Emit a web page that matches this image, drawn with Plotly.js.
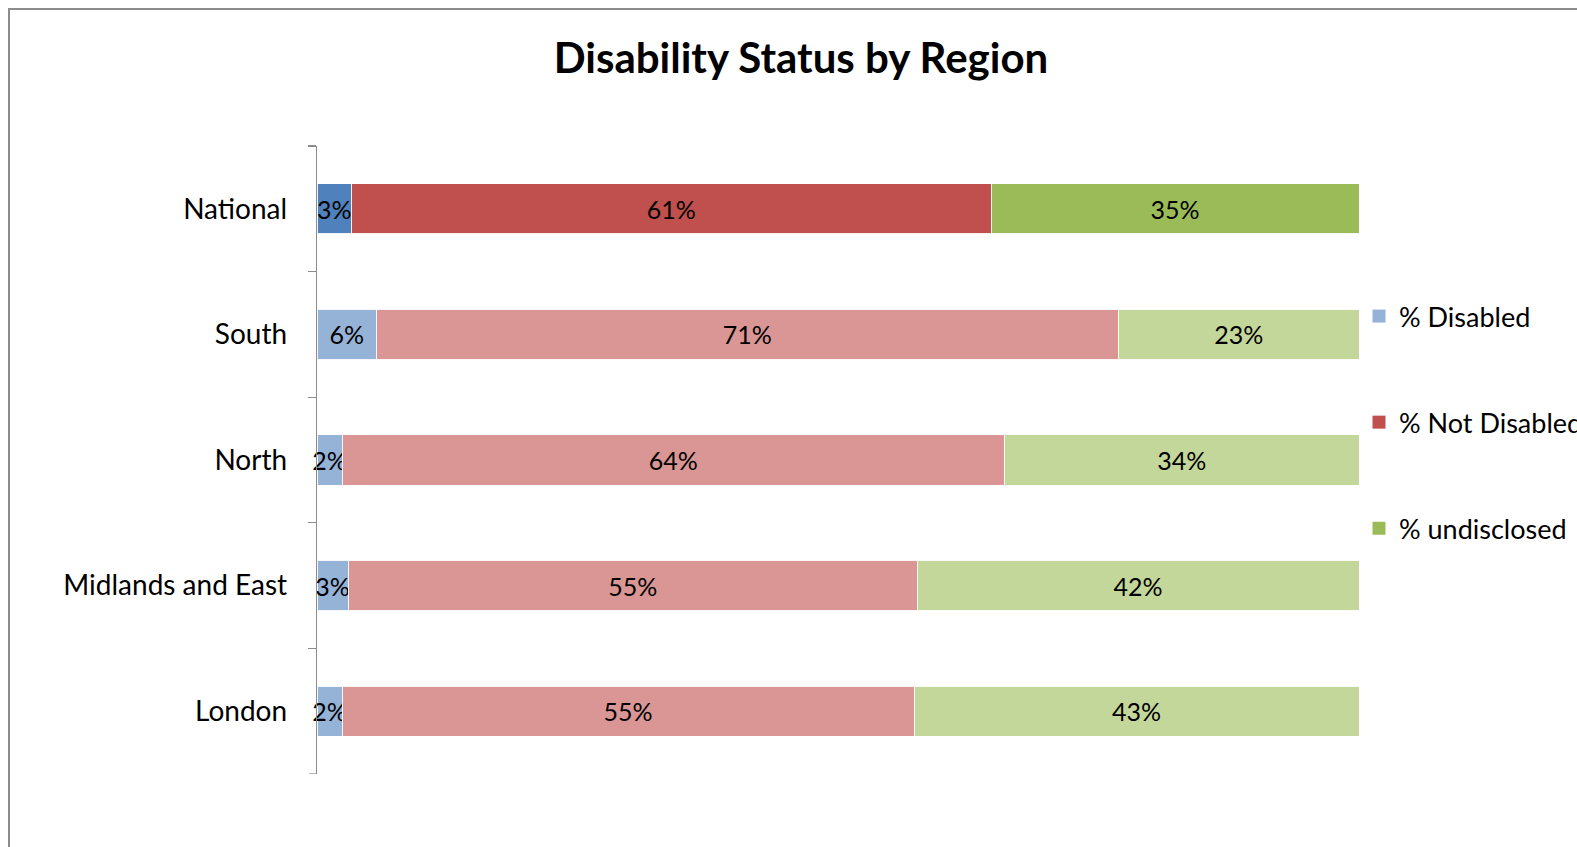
<!DOCTYPE html>
<html>
<head>
<meta charset="utf-8">
<script src="https://cdn.plot.ly/plotly-3.0.1.min.js"></script>
<style>
  html, body { margin: 0; padding: 0; background: #ffffff; overflow: hidden; }
  #chart { width: 1577px; height: 847px; position: relative; }
  #frame { position: absolute; left: 8px; top: 8px; width: 1600px; height: 900px;
           border-left: 2px solid #8c8c8c; border-top: 2px solid #8c8c8c; pointer-events: none; z-index: 10; }
</style>
</head>
<body>
<div id="chart"></div>
<div id="frame"></div>
<script>
// ---- data ----
const regions = ["National", "South", "North", "Midlands and East", "London"];
const seriesNames = ["% Disabled", "% Not Disabled", "% undisclosed"];
const disabled    = [3.3, 5.7, 2.4, 3.0, 2.4];
const notDisabled = [61.4, 71.2, 63.6, 54.6, 54.9];
const undisclosed = [35.3, 23.1, 34.0, 42.4, 42.7];

// ---- styling ----
const darkColors  = ["#4F81BD", "#C0504D", "#9BBB59"];
const lightColors = ["#95B3D7", "#DA9694", "#C4D79B"];
const legendColors = ["#95B3D7", "#C0504D", "#9BBB59"];
const FONT = "Lato, 'Open Sans', sans-serif";
const AXIS_GREY = "#8c8c8c";

const seriesValues = [disabled, notDisabled, undisclosed];
const traces = [];
seriesValues.forEach((vals, s) => {
  traces.push({
    type: "bar",
    orientation: "h",
    y: regions,
    x: vals,
    name: seriesNames[s],
    showlegend: false,
    legendgroup: "g" + s,
    cliponaxis: false,
    marker: {
      color: regions.map((r, i) => i === 0 ? darkColors[s] : lightColors[s]),
      line: { color: "rgba(255,255,255,0.9)", width: 1 }
    },
    text: vals.map(v => Math.round(v) + "%"),
    textposition: "inside",
    insidetextanchor: "middle",
    constraintext: "none",
    textangle: 0,
    textfont: { family: FONT, size: 25, color: "#000000" },
    hoverinfo: "name+y+text"
  });
});
// legend entries (no data)
seriesNames.forEach((n, s) => {
  traces.push({
    type: "scatter", mode: "markers", x: [null], y: [null],
    name: n, legendgroup: "g" + s, showlegend: true,
    marker: { color: legendColors[s], symbol: "square", size: 13 }, hoverinfo: "skip"
  });
});

const nCat = regions.length;

const layout = {
  width: 1577, height: 847,
  paper_bgcolor: "#ffffff", plot_bgcolor: "#ffffff",
  margin: { l: 317, r: 218, t: 146, b: 73, autoexpand: false },
  barmode: "stack",
  barnorm: "percent",
  bargap: 0.6,
  title: {
    text: "<b>Disability Status by Region</b>",
    font: { family: FONT, size: 42, color: "#000000" },
    xref: "container", x: 801 / 1577, xanchor: "center",
    yref: "container", y: 1 - 58 / 847, yanchor: "middle"
  },
  xaxis: {
    range: [0, 100], visible: false, fixedrange: true
  },
  yaxis: {
    type: "category",
    range: [nCat - 0.5, -0.5],
    showline: true, linecolor: AXIS_GREY, linewidth: 1.3,
    ticks: "outside", tickson: "boundaries", ticklen: 8, tickcolor: AXIS_GREY, tickwidth: 1.3,
    ticklabelstandoff: 23,
    showgrid: false, zeroline: false,
    tickfont: { family: FONT, size: 28, color: "#000000" }
  },
  shapes: [
    // closing tick at the bottom category boundary
    { type: "line", xref: "paper", yref: "y", x0: -8 / (1577 - 317 - 218), x1: 0,
      y0: nCat - 0.5, y1: nCat - 0.5, line: { color: AXIS_GREY, width: 1.3 } }
  ],
  showlegend: true,
  legend: {
    xref: "container", yref: "container",
    x: 1359 / 1577, xanchor: "left", y: 1 - 292 / 847, yanchor: "top",
    traceorder: "grouped", tracegroupgap: 68,
    font: { family: FONT, size: 27, color: "#000000" },
    bgcolor: "rgba(0,0,0,0)", borderwidth: 0
  }
};

Plotly.newPlot("chart", traces, layout, { displayModeBar: false, staticPlot: true });
</script>
</body>
</html>
